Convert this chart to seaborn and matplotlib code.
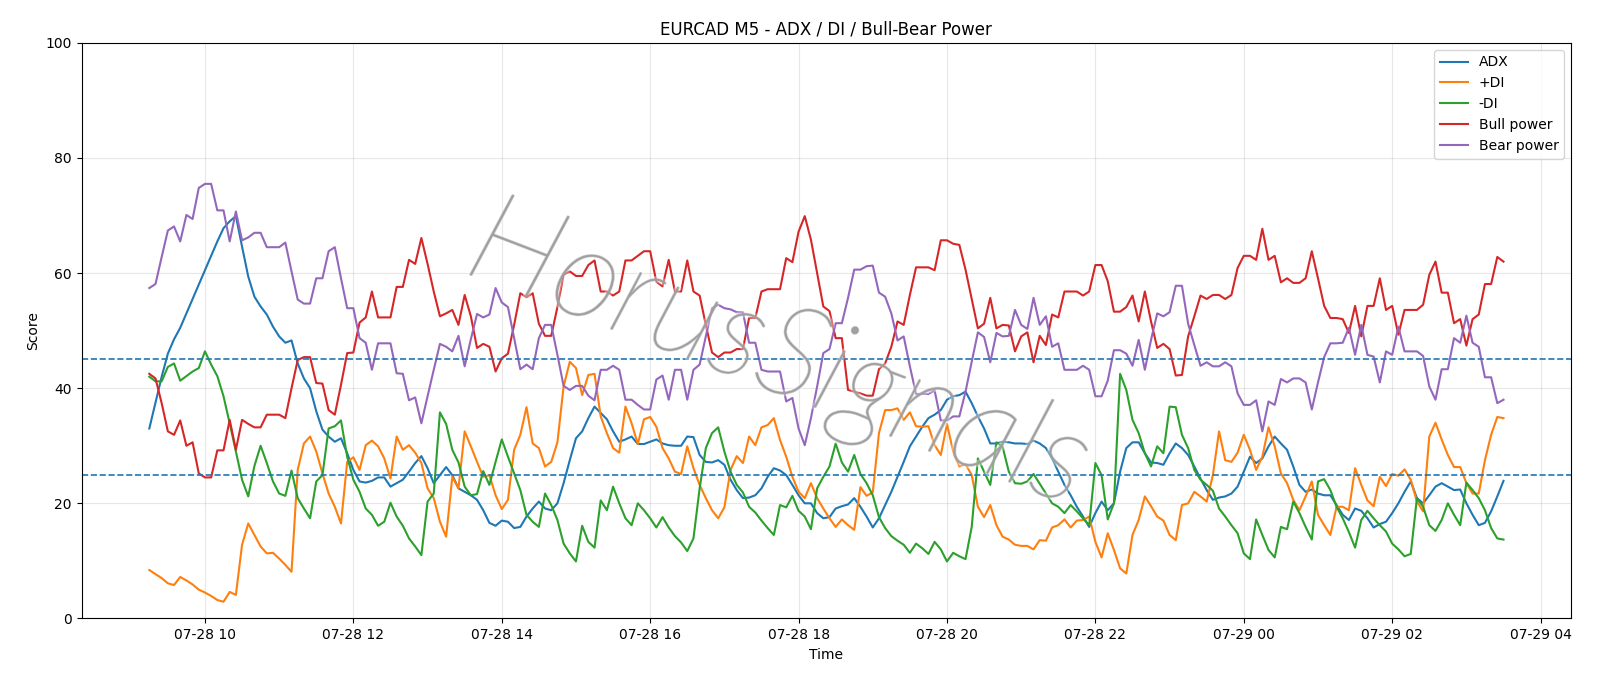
import numpy as np
import pandas as pd
import matplotlib
matplotlib.use("Agg")
import matplotlib.pyplot as plt
import matplotlib.dates as mdates
from matplotlib import patheffects as pe
import seaborn as sns

start_time = "2025-07-28 09:15"
n_points = 220

adx = [33.0, 37.5, 42.0, 46.0, 48.5, 50.5, 53.0, 55.5, 58.0, 60.5, 63.0, 65.5, 67.8, 69.0, 69.9, 64.6, 59.4, 55.9, 54.2, 52.8, 50.7, 49.0, 47.9, 48.3, 44.3, 41.7, 40.0, 36.0,
       32.8, 31.6, 30.7, 31.3, 28.7, 25.8, 23.8, 23.6, 23.9, 24.5, 24.5, 22.9, 23.5, 24.1, 25.5, 27.0, 28.2, 26.1, 23.5, 24.9, 26.3, 24.9, 22.6, 22.0, 21.4, 20.6, 18.8, 16.6,
       16.1, 17.0, 16.8, 15.7, 15.9, 17.7, 19.1, 20.3, 19.1, 18.8, 20.0, 23.5, 27.5, 31.3, 32.5, 34.8, 36.8, 35.7, 34.6, 32.5, 30.7, 31.1, 31.6, 30.3, 30.3, 30.7, 31.1, 30.4,
       30.1, 30.0, 30.0, 31.6, 31.5, 28.4, 27.2, 27.1, 27.5, 26.7, 24.1, 22.3, 20.9, 21.0, 21.4, 22.6, 24.6, 26.1, 25.7, 24.9, 23.2, 21.4, 20.0, 20.0, 18.3, 17.4, 17.6, 19.1,
       19.5, 19.8, 20.9, 19.4, 17.7, 15.8, 17.4, 19.7, 22.0, 24.6, 27.2, 29.9, 31.6, 33.3, 34.8, 35.4, 36.2, 38.0, 38.6, 38.8, 39.4, 37.4, 35.1, 33.0, 30.4, 30.4, 30.7, 30.6,
       30.4, 30.4, 30.3, 30.9, 30.4, 29.6, 27.8, 25.5, 23.2, 21.4, 19.4, 17.7, 15.9, 18.3, 20.3, 18.8, 20.0, 25.5, 29.6, 30.6, 30.6, 28.7, 27.1, 27.0, 26.7, 28.7, 30.4, 29.6,
       28.4, 26.4, 24.3, 22.3, 20.6, 21.0, 21.2, 21.7, 22.9, 25.5, 28.1, 27.0, 27.8, 29.9, 31.6, 30.4, 29.3, 26.4, 23.2, 22.0, 22.4, 21.7, 21.4, 21.4, 19.7, 18.0, 17.1, 19.1,
       18.7, 17.4, 15.8, 16.4, 16.8, 18.3, 20.0, 22.0, 23.8, 20.9, 20.0, 21.4, 22.9, 23.5, 22.9, 22.3, 22.4, 20.0, 18.0, 16.2, 16.6, 18.6, 21.2, 23.9]

plus_di = [8.4, 7.7, 7.0, 6.1, 5.8, 7.2, 6.6, 5.9, 5.0, 4.5, 3.9, 3.2, 2.9, 4.6, 4.1, 12.8, 16.5, 14.5, 12.5, 11.3, 11.4, 10.4, 9.3, 8.1, 25.8, 30.4, 31.6, 29.0,
           25.2, 21.7, 19.4, 16.5, 27.2, 28.0, 25.8, 30.1, 30.9, 29.9, 27.8, 24.3, 31.6, 29.3, 30.1, 28.8, 27.0, 22.6, 20.9, 16.8, 14.2, 24.6, 22.6, 32.5, 29.9, 27.2, 24.6, 24.9,
           21.4, 19.0, 20.6, 29.3, 31.9, 36.7, 30.4, 29.6, 26.4, 27.2, 30.6, 40.3, 44.6, 43.5, 38.8, 42.3, 42.5, 35.1, 32.2, 29.6, 28.8, 36.8, 33.9, 30.3, 34.6, 35.0, 33.3, 29.6,
           27.8, 25.5, 25.1, 29.9, 26.1, 23.2, 20.9, 18.8, 17.4, 19.3, 25.8, 28.2, 27.0, 31.6, 30.1, 33.2, 33.6, 34.8, 31.0, 28.1, 24.6, 22.0, 20.9, 23.5, 20.9, 19.1, 17.4, 15.9,
           17.2, 16.2, 15.4, 22.8, 21.3, 21.9, 32.2, 36.2, 36.2, 36.5, 34.5, 35.8, 33.4, 33.3, 33.4, 30.1, 28.4, 33.8, 29.0, 26.4, 26.8, 24.9, 19.4, 17.6, 19.7, 16.2, 14.2, 13.7,
           12.8, 12.6, 12.6, 12.0, 13.6, 13.5, 15.8, 16.2, 17.2, 15.8, 17.0, 17.1, 17.7, 13.3, 10.6, 14.8, 11.9, 8.7, 7.8, 14.5, 17.1, 21.2, 19.5, 17.7, 17.0, 14.5, 13.6, 19.7,
           20.0, 22.0, 21.2, 20.3, 24.9, 32.5, 27.5, 27.2, 28.8, 31.9, 29.3, 25.8, 28.1, 33.2, 29.9, 25.2, 23.5, 20.6, 18.8, 21.2, 23.8, 18.0, 16.2, 14.5, 19.4, 19.4, 18.8, 26.1,
           23.2, 20.5, 19.5, 24.6, 23.0, 25.1, 24.8, 25.9, 24.1, 20.3, 18.6, 31.6, 34.0, 31.1, 28.4, 26.3, 26.3, 23.5, 21.7, 21.7, 27.5, 31.9, 35.0, 34.8]

minus_di = [42.0, 41.2, 41.2, 43.7, 44.3, 41.3, 42.1, 42.9, 43.5, 46.4, 44.1, 42.1, 38.6, 33.9, 29.0, 24.1, 21.2, 26.5, 30.0, 27.0, 23.8, 21.7, 21.3, 25.7, 20.9, 19.1, 17.4, 23.8,
            24.9, 33.0, 33.4, 34.4, 28.1, 24.1, 22.0, 19.1, 18.0, 16.1, 16.8, 20.1, 17.7, 16.1, 13.9, 12.5, 11.0, 20.3, 21.7, 35.8, 33.8, 29.3, 27.1, 22.9, 21.4, 21.6, 25.6, 23.2,
            27.2, 31.1, 28.1, 25.2, 22.3, 18.0, 16.8, 15.9, 21.7, 19.7, 17.1, 13.0, 11.3, 9.9, 16.1, 13.3, 12.3, 20.5, 18.8, 22.9, 20.0, 17.4, 16.2, 20.0, 18.8, 17.4, 15.8, 17.6,
            15.8, 14.3, 13.2, 11.7, 13.9, 22.6, 29.6, 32.2, 33.2, 29.0, 25.5, 23.2, 21.9, 19.4, 18.4, 17.0, 15.7, 14.5, 19.7, 19.3, 21.3, 18.7, 17.7, 15.5, 22.6, 24.6, 26.4, 30.4,
            27.1, 25.5, 28.4, 25.1, 23.5, 21.4, 17.6, 15.7, 14.3, 13.5, 12.8, 11.4, 13.0, 12.2, 11.2, 13.3, 12.0, 9.9, 11.4, 10.8, 10.3, 15.9, 27.8, 25.5, 23.2, 30.6, 29.8, 25.5,
            23.5, 23.4, 23.8, 25.1, 23.4, 21.7, 20.0, 19.4, 18.3, 19.7, 18.6, 17.4, 16.2, 27.0, 24.9, 17.2, 20.0, 42.5, 39.7, 34.5, 32.2, 28.7, 26.4, 29.9, 28.7, 36.8, 36.7, 31.9,
            29.6, 25.8, 24.1, 23.2, 22.2, 19.1, 17.7, 16.2, 14.8, 11.3, 10.3, 17.2, 14.5, 11.9, 10.6, 15.9, 15.5, 20.3, 18.3, 15.9, 13.7, 23.8, 24.2, 22.3, 19.4, 17.4, 15.0, 12.3,
            17.1, 18.7, 17.4, 16.2, 15.1, 13.0, 12.0, 10.8, 11.2, 20.9, 19.4, 16.2, 15.2, 17.1, 20.0, 18.0, 16.2, 23.6, 22.3, 20.9, 18.8, 15.7, 13.9, 13.7]

bull_power = [42.5, 41.7, 37.4, 32.5, 31.9, 34.4, 30.0, 30.6, 25.2, 24.5, 24.5, 29.2, 29.2, 34.5, 29.3, 34.5, 33.8, 33.2, 33.2, 35.4, 35.4, 35.4, 34.8, 40.0, 44.9, 45.4, 45.4, 40.9,
              40.8, 36.2, 35.4, 40.6, 46.1, 46.2, 51.4, 52.3, 56.8, 52.3, 52.3, 52.3, 57.6, 57.6, 62.3, 61.6, 66.1, 61.6, 56.8, 52.5, 53.0, 53.6, 51.0, 56.2, 52.5, 47.0, 47.7, 47.2,
              42.9, 45.2, 46.0, 51.0, 56.5, 55.8, 56.5, 51.2, 49.1, 49.1, 54.1, 59.7, 60.3, 59.5, 59.5, 61.4, 62.2, 56.8, 56.8, 56.1, 56.8, 62.2, 62.2, 63.0, 63.8, 63.8, 58.5, 57.7,
              62.3, 56.8, 56.8, 62.2, 56.8, 56.1, 51.0, 46.2, 45.4, 46.2, 46.2, 46.8, 46.8, 52.2, 52.2, 56.8, 57.2, 57.2, 57.2, 62.6, 61.9, 67.2, 69.9, 65.8, 60.0, 54.2, 53.4, 48.7,
              48.7, 39.7, 39.4, 39.1, 38.7, 38.7, 43.3, 44.3, 47.2, 51.6, 51.0, 56.2, 61.0, 61.0, 61.0, 60.5, 65.7, 65.7, 65.1, 64.9, 60.6, 55.5, 50.4, 51.2, 55.7, 50.4, 51.0, 50.9,
              46.4, 49.0, 49.7, 44.5, 49.1, 47.5, 52.8, 52.3, 56.8, 56.8, 56.8, 56.1, 56.8, 61.4, 61.4, 58.6, 53.3, 53.3, 54.1, 56.1, 51.6, 56.8, 51.6, 47.0, 47.7, 46.8, 42.2, 42.3,
              49.0, 52.5, 56.1, 55.5, 56.2, 56.2, 55.5, 56.2, 60.9, 63.0, 63.0, 62.3, 67.7, 62.3, 63.0, 58.4, 59.1, 58.3, 58.3, 59.1, 63.8, 59.1, 54.3, 52.2, 52.2, 52.0, 49.6, 54.3,
              49.0, 54.3, 54.3, 59.1, 53.6, 54.3, 49.3, 53.6, 53.6, 53.6, 54.5, 59.7, 62.0, 56.6, 56.6, 51.3, 52.0, 47.4, 52.0, 52.8, 58.1, 58.1, 62.8, 62.0]

bear_power = [57.4, 58.1, 62.8, 67.4, 68.1, 65.5, 70.1, 69.4, 74.8, 75.5, 75.5, 70.9, 70.9, 65.5, 70.7, 65.7, 66.2, 67.0, 67.0, 64.5, 64.5, 64.5, 65.3, 60.3, 55.4, 54.7, 54.7, 59.1,
              59.1, 63.8, 64.5, 59.1, 53.9, 53.9, 48.7, 47.9, 43.2, 47.8, 47.8, 47.8, 42.6, 42.5, 37.9, 38.4, 33.9, 38.6, 43.2, 47.7, 47.2, 46.4, 49.1, 43.8, 48.5, 52.9, 52.3, 52.8,
              57.4, 54.9, 54.1, 48.7, 43.3, 44.1, 43.3, 48.7, 51.0, 51.0, 45.8, 40.4, 39.7, 40.4, 40.4, 38.7, 37.9, 43.2, 43.2, 43.9, 43.2, 38.0, 38.0, 37.1, 36.3, 36.3, 41.5, 42.2,
              38.0, 43.2, 43.2, 38.0, 43.2, 44.1, 49.0, 53.9, 54.5, 53.9, 53.7, 53.2, 53.2, 47.9, 47.9, 43.2, 42.9, 42.9, 42.9, 37.7, 38.3, 33.0, 30.1, 34.8, 40.3, 46.1, 46.8, 51.3,
              51.3, 55.7, 60.6, 60.6, 61.2, 61.3, 56.6, 55.9, 53.0, 48.3, 49.0, 43.8, 39.0, 39.0, 39.0, 39.6, 34.4, 34.4, 35.1, 35.1, 39.4, 44.6, 49.7, 48.9, 44.5, 49.6, 49.0, 49.1,
              53.6, 51.0, 50.3, 55.7, 51.0, 52.5, 47.2, 47.8, 43.2, 43.2, 43.2, 43.9, 43.2, 38.6, 38.6, 41.3, 46.6, 46.6, 46.0, 43.9, 48.4, 43.2, 48.4, 53.0, 52.5, 53.2, 57.8, 57.8,
              51.2, 47.5, 43.9, 44.5, 43.8, 43.8, 44.5, 43.8, 39.1, 37.1, 37.1, 37.9, 32.5, 37.7, 37.1, 41.6, 41.0, 41.7, 41.7, 41.0, 36.3, 41.0, 45.4, 47.8, 47.8, 47.9, 50.5, 45.8,
              51.0, 45.8, 45.5, 41.0, 46.4, 45.8, 50.7, 46.4, 46.4, 46.4, 45.6, 40.3, 38.0, 43.3, 43.3, 48.7, 47.9, 52.6, 47.9, 47.2, 41.9, 41.9, 37.4, 38.0]

series_names = ["ADX", "+DI", "-DI", "Bull power", "Bear power"]
threshold_levels = [45, 25]
watermark = "HorusSignals"

times = pd.date_range(start_time, periods=n_points, freq="5min")
df = pd.DataFrame({"Time": times, "ADX": adx, "+DI": plus_di, "-DI": minus_di,
                   "Bull power": bull_power, "Bear power": bear_power})

fig, ax = plt.subplots(figsize=(16, 6.86), dpi=100)
fig.subplots_adjust(left=0.051, right=0.982, top=0.9375, bottom=0.0985)

colors = sns.color_palette("tab10", 5)
for name, c in zip(series_names, colors):
    sns.lineplot(data=df, x="Time", y=name, ax=ax, color=c, label=name, linewidth=1.5)

for lvl in threshold_levels:
    ax.axhline(lvl, color=colors[0], linestyle="--", linewidth=1.2)

ax.text(0.468, 0.455, watermark, transform=ax.transAxes, fontsize=92,
        rotation=-21, ha="center", va="center", family=["Lato", "DejaVu Sans"],
        fontweight=200, fontstyle="italic", color=(0.62, 0.62, 0.62, 0.6),
        path_effects=[pe.withStroke(linewidth=4, foreground=(1, 1, 1, 0.35)),
                      pe.Stroke(linewidth=1.3, foreground=(0.62, 0.62, 0.62, 0.6)),
                      pe.Normal()],
        zorder=5)

ax.set_ylim(0, 100)
ax.xaxis.set_major_locator(mdates.HourLocator(interval=2))
ax.xaxis.set_major_formatter(mdates.DateFormatter("%m-%d %H"))
ax.grid(True, alpha=0.3)
ax.set_title("EURCAD M5 - ADX / DI / Bull-Bear Power")
ax.set_xlabel("Time")
ax.set_ylabel("Score")
ax.legend(loc="upper right")

fig.savefig("out.png", dpi=100)
